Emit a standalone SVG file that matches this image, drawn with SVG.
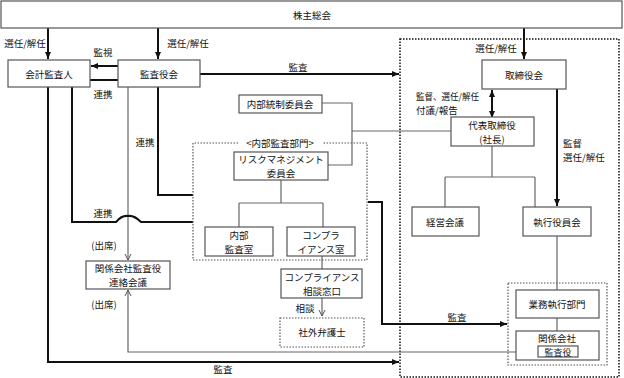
<svg xmlns="http://www.w3.org/2000/svg" width="624" height="378" viewBox="0 0 624 378">
<defs>
<style>
text{font-family:"Noto Sans CJK JP","Noto Sans",sans-serif;font-size:9.5px;fill:#111;text-anchor:middle;dominant-baseline:central}
.box{fill:#fff;stroke:#555;stroke-width:1.2}
.dbox{fill:none;stroke:#555;stroke-width:1.2;stroke-dasharray:1.5,1.5}
.big{fill:none;stroke:#111;stroke-width:1.5;stroke-dasharray:1.5,1.5}
.thick{fill:none;stroke:#111;stroke-width:2}
.thin{fill:none;stroke:#666;stroke-width:1.2}
.l{text-anchor:start}
</style>
<marker id="ah" markerWidth="8" markerHeight="8" refX="7" refY="4" orient="auto" markerUnits="userSpaceOnUse"><path d="M0,1 L7,4 L0,7 Z" fill="#111"/></marker>
<marker id="ahs" markerWidth="8" markerHeight="8" refX="7" refY="4" orient="auto-start-reverse" markerUnits="userSpaceOnUse"><path d="M0,1 L7,4 L0,7 Z" fill="#111"/></marker>
<marker id="open" markerWidth="8" markerHeight="8" refX="6" refY="4" orient="auto" markerUnits="userSpaceOnUse"><path d="M0,1 L6,4 L0,7" fill="none" stroke="#555" stroke-width="1"/></marker>
</defs>

<rect class="big" x="400" y="39" width="219" height="338"/>

<g id="connectors">
<path class="thick" d="M48,28 V59" marker-end="url(#ah)"/>
<path class="thick" d="M158,28 V59" marker-end="url(#ah)"/>
<path class="thick" d="M524,28 V59" marker-end="url(#ah)"/>
<path class="thick" d="M118,66 H91" marker-end="url(#ah)"/>
<path class="thick" d="M90,80 H118"/>
<path class="thick" d="M200,74 H399" marker-end="url(#ah)"/>
<path class="thick" d="M492,90 V118" marker-start="url(#ahs)" marker-end="url(#ah)"/>
<path class="thick" d="M557,89 V206" marker-end="url(#ah)"/>
<path class="thin" d="M322,103 H352 V165 H328"/>
<path class="thin" d="M352,131 H451"/>
<path class="thin" d="M492,146 V177 M445,177 H535 M445,177 V207 M535,177 V207"/>
<path class="thin" d="M557,236 V290 M557,318 V331"/>
<path class="thin" d="M281,179 V203 M239,203 H323 M239,203 V227 M323,203 V227"/>
<path class="thin" d="M322,256 V269"/>
<path class="thin" d="M322,298 V316" marker-end="url(#open)"/>
<path class="thin" d="M128,87 V260" marker-end="url(#open)"/>
<path class="thin" d="M538,352 H128 V290" marker-end="url(#open)"/>
<path class="thick" d="M72,87 V222 H116 Q122,215 128,216 Q134,215 141,222 H193"/>
<path class="thick" d="M158,87 V195 H193"/>
<path class="thick" d="M48,87 V362 H399" marker-end="url(#ah)"/>
<path class="thick" d="M368,202 H382 V324 H507" marker-end="url(#ah)"/>
</g>

<g id="kabunushi"><rect class="box" x="1" y="1" width="621" height="27"/><text x="312" y="15">株主総会</text></g>
<g id="kaikei"><rect class="box" x="8" y="60" width="82" height="27"/><text x="49" y="74">会計監査人</text></g>
<g id="kansayakukai"><rect class="box" x="118" y="60" width="82" height="27"/><text x="159" y="74">監査役会</text></g>
<g id="torishimariyakukai"><rect class="box" x="482" y="60" width="84" height="29"/><text x="524" y="75">取締役会</text></g>
<g id="naibutousei"><rect class="box" x="239" y="95" width="83" height="18"/><text x="280" y="104">内部統制委員会</text></g>
<g id="daihyo"><rect class="box" x="451" y="117" width="83" height="29"/><text x="492" y="124.5">代表取締役</text><text x="492" y="138.5">(社長)</text></g>
<g id="naibukansabumon"><path class="dbox" d="M238,143 H193 V260 H367 V143 H323"/><text x="280" y="143">&lt;内部監査部門&gt;</text></g>
<g id="risk"><rect class="box" x="234" y="152" width="94" height="28"/><text x="281" y="159">リスクマネジメント</text><text x="281" y="173">委員会</text></g>
<g id="naibukansashitsu"><rect class="box" x="205" y="227" width="68" height="29"/><text x="239" y="234.5">内部</text><text x="239" y="248.5">監査室</text></g>
<g id="compshitsu"><rect class="box" x="287" y="227" width="68" height="29"/><text x="321" y="234.5">コンプラ</text><text x="321" y="248.5">イアンス室</text></g>
<g id="compmadoguchi"><rect class="box" x="281" y="269" width="81" height="29"/><text x="322" y="276.5">コンプライアンス</text><text x="322" y="290.5">相談窓口</text></g>
<g id="bengoshi"><rect class="dbox" x="280" y="318" width="84" height="29"/><text x="322" y="332">社外弁護士</text></g>
<g id="renrakukaigi"><rect class="box" x="86" y="261" width="84" height="28"/><text x="128" y="268">関係会社監査役</text><text x="128" y="282">連絡会議</text></g>
<g id="keiei"><rect class="box" x="412" y="207" width="67" height="29"/><text x="445" y="222">経営会議</text></g>
<g id="shikkou"><rect class="box" x="523" y="207" width="68" height="29"/><text x="557" y="222">執行役員会</text></g>
<g id="gyomu-group"><rect class="dbox" x="508" y="283" width="99" height="82"/></g>
<g id="gyomu"><rect class="box" x="516" y="290" width="83" height="28"/><text x="557" y="304">業務執行部門</text></g>
<g id="kankeigaisha"><rect class="box" x="516" y="331" width="83" height="29"/><text x="557" y="338">関係会社</text><rect class="box" x="538" y="346" width="40" height="11"/><text x="558" y="352" style="font-size:9px">監査役</text></g>

<g id="labels">
<text x="25" y="43">選任/解任</text>
<text x="188" y="43">選任/解任</text>
<text x="496" y="48">選任/解任</text>
<text x="103" y="52">監視</text>
<text x="103" y="94">連携</text>
<text x="298" y="67">監査</text>
<text class="l" x="416" y="96" textLength="63" lengthAdjust="spacingAndGlyphs">監督、選任/解任</text>
<text class="l" x="416" y="110">付議/報告</text>
<text class="l" x="563" y="143">監督</text>
<text class="l" x="563" y="157">選任/解任</text>
<text x="145" y="142">連携</text>
<text x="103" y="213">連携</text>
<text x="104" y="245">(出席)</text>
<text x="104" y="304">(出席)</text>
<text x="305" y="308">相談</text>
<text x="457" y="317">監査</text>
<text x="223" y="369">監査</text>
</g>
</svg>
